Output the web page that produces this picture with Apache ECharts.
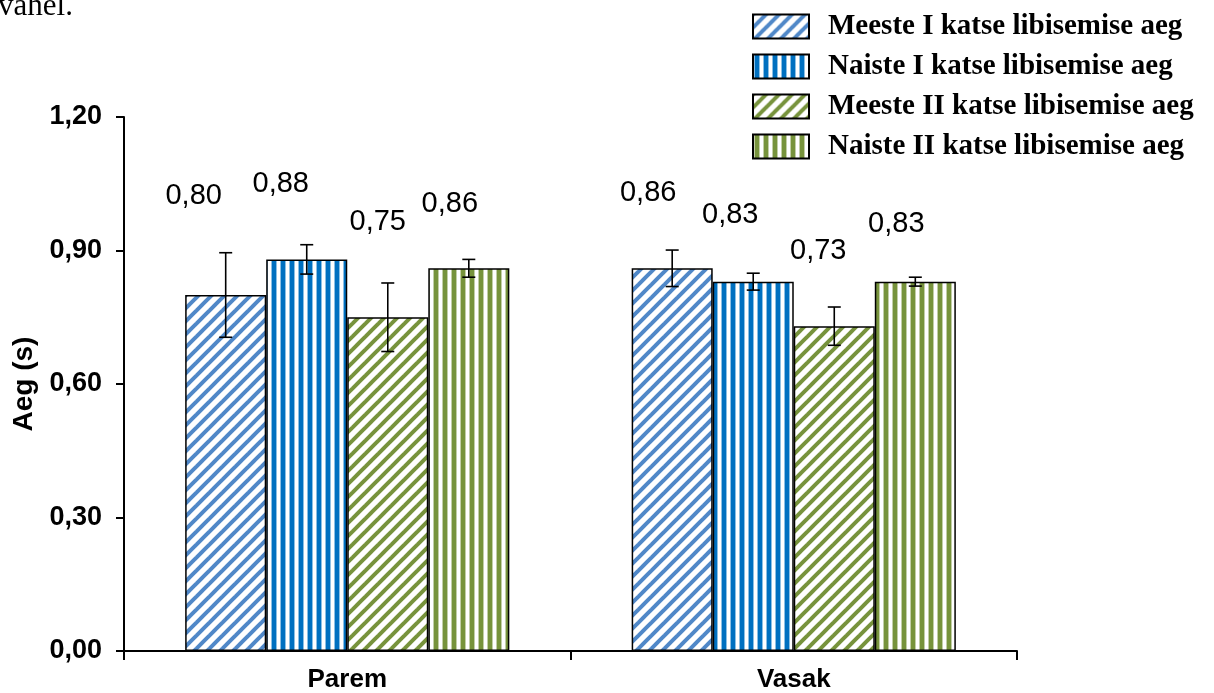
<!DOCTYPE html>
<html>
<head>
<meta charset="utf-8">
<script src="https://cdn.jsdelivr.net/npm/echarts@6/dist/echarts.min.js"></script>
<style>
  html, body { margin: 0; padding: 0; background: #fff; }
  #chart { width: 1214px; height: 693px; }
</style>
</head>
<body>
<div id="chart"></div>
<script>
// Slip times (s) for right and left side, first and second trial
const categories = ['Parem', 'Vasak'];
const seriesNames = [
  'Meeste I katse libisemise aeg',
  'Naiste I katse libisemise aeg',
  'Meeste II katse libisemise aeg',
  'Naiste II katse libisemise aeg'
];
const meesteI = [0.80, 0.86];
const naisteI = [0.88, 0.83];
const meesteII = [0.75, 0.73];
const naisteII = [0.86, 0.83];
// standard deviations shown as error bars
const meesteIErr = [0.095, 0.041];
const naisteIErr = [0.033, 0.019];
const meesteIIErr = [0.077, 0.043];
const naisteIIErr = [0.020, 0.010];
const yTicks = [0, 0.3, 0.6, 0.9, 1.2];

const values = [meesteI, naisteI, meesteII, naisteII];
const errors = [meesteIErr, naisteIErr, meesteIIErr, naisteIIErr];

// ---- styling ----
const BLUE_LIGHT = '#5088c8';
const BLUE = '#0070c0';
const GREEN = '#77933c';
const CAT_GAP = 0.274;
// label nudges [dx, dy] in px relative to the top centre of each bar
const labelNudge = [
  [[-32, -99], [-24, -75]],
  [[-26, -75], [-23, -67]],
  [[-10, -95], [-16, -75]],
  [[-19, -64], [-19, -58]]
];

function diagonalPattern(color) {
  const p = 13;
  const c = document.createElement('canvas');
  c.width = p; c.height = p;
  const g = c.getContext('2d');
  g.fillStyle = '#fff';
  g.fillRect(0, 0, p, p);
  g.strokeStyle = color;
  g.lineWidth = 4.0;
  for (let k = -1; k <= 1; k++) {
    g.beginPath();
    g.moveTo(-2 + k * p, p + 2);
    g.lineTo(p + 2 + k * p, -2);
    g.stroke();
  }
  return { image: c, repeat: 'repeat' };
}
function verticalPattern(color) {
  const p = 9;
  const c = document.createElement('canvas');
  c.width = p; c.height = 4;
  const g = c.getContext('2d');
  g.fillStyle = '#fff';
  g.fillRect(0, 0, p, 4);
  g.fillStyle = color;
  g.globalAlpha = 0.45;
  g.fillRect(1, 0, 1, 4);
  g.fillRect(6, 0, 1, 4);
  g.globalAlpha = 1;
  g.fillRect(2, 0, 4, 4);
  return { image: c, repeat: 'repeat' };
}
const fills = [
  diagonalPattern(BLUE_LIGHT),
  verticalPattern(BLUE),
  diagonalPattern(GREEN),
  verticalPattern(GREEN)
];

const fmt = v => v.toFixed(2).replace('.', ',');

const barSeries = seriesNames.map((name, i) => ({
  name: name,
  type: 'bar',
  barGap: '0%',
  barCategoryGap: (CAT_GAP * 100) + '%',
  data: values[i].map((v, j) => ({
    value: v,
    label: { offset: labelNudge[i][j] }
  })),
  itemStyle: { color: fills[i], borderColor: '#000', borderWidth: 1.5 },
  label: {
    show: true,
    position: 'top',
    distance: 0,
    align: 'center',
    verticalAlign: 'middle',
    fontFamily: 'Liberation Sans, Arial, sans-serif',
    fontSize: 29,
    color: '#000',
    formatter: p => fmt(p.value)
  },
  emphasis: { disabled: true },
  z: 2
}));

const errSeries = seriesNames.map((name, i) => ({
  name: name + ' SD',
  type: 'custom',
  z: 5,
  silent: true,
  data: values[i].map((v, j) => [j, v, errors[i][j]]),
  encode: { x: 0, y: 1 },
  renderItem: function (params, api) {
    const cat = api.value(0), v = api.value(1), e = api.value(2);
    const band = api.size([1, 0])[0];
    const bw = band * (1 - CAT_GAP) / 4;
    const dx = (i - 1.5) * bw;
    const top = api.coord([cat, v + e]);
    const bot = api.coord([cat, v - e]);
    const x = top[0] + dx;
    const cap = 6.5;
    const st = { stroke: '#000', lineWidth: 1.6 };
    return {
      type: 'group',
      children: [
        { type: 'line', shape: { x1: x, y1: top[1], x2: x, y2: bot[1] }, style: st },
        { type: 'line', shape: { x1: x - cap, y1: top[1], x2: x + cap, y2: top[1] }, style: st },
        { type: 'line', shape: { x1: x - cap, y1: bot[1], x2: x + cap, y2: bot[1] }, style: st }
      ]
    };
  }
}));

const chart = echarts.init(document.getElementById('chart'), null, { renderer: 'canvas' });
chart.setOption({
  animation: false,
  backgroundColor: '#fff',
  grid: { left: 124, right: 197, top: 117, bottom: 39, containLabel: false },
  graphic: [{
    type: 'text',
    left: -2,
    top: -9,
    style: {
      text: 'vahel.',
      font: '31px "Liberation Serif", "Times New Roman", serif',
      fill: '#000'
    }
  }],
  legend: {
    data: seriesNames,
    orient: 'vertical',
    left: 747,
    top: 7,
    itemWidth: 56,
    itemHeight: 24,
    itemGap: 11,
    selectedMode: false,
    icon: 'rect',
    itemStyle: { borderColor: '#000', borderWidth: 2 },
    textStyle: {
      fontFamily: 'Liberation Serif, Times New Roman, serif',
      fontWeight: 'bold',
      fontSize: 29,
      lineHeight: 28,
      color: '#000',
      padding: [0, 0, 0, 14]
    }
  },
  xAxis: {
    type: 'category',
    data: categories,
    axisLine: { lineStyle: { color: '#000', width: 2 } },
    axisTick: { show: true, length: 9, lineStyle: { color: '#000', width: 2 } },
    axisLabel: {
      margin: 16,
      fontFamily: 'Liberation Sans, Arial, sans-serif',
      fontWeight: 'bold',
      fontSize: 26,
      color: '#000'
    }
  },
  yAxis: {
    type: 'value',
    min: yTicks[0],
    max: yTicks[yTicks.length - 1],
    interval: yTicks[1] - yTicks[0],
    name: 'Aeg (s)',
    nameLocation: 'middle',
    nameGap: 82,
    nameRotate: 90,
    nameTextStyle: {
      fontFamily: 'Liberation Sans, Arial, sans-serif',
      fontWeight: 'bold',
      fontSize: 28,
      color: '#000'
    },
    splitLine: { show: false },
    axisLine: { show: true, lineStyle: { color: '#000', width: 2 } },
    axisTick: { show: true, length: 8, lineStyle: { color: '#000', width: 2 } },
    axisLabel: {
      margin: 22,
      fontFamily: 'Liberation Sans, Arial, sans-serif',
      fontWeight: 'bold',
      fontSize: 27,
      color: '#000',
      formatter: v => fmt(v)
    }
  },
  series: barSeries.concat(errSeries)
});
</script>
</body>
</html>
